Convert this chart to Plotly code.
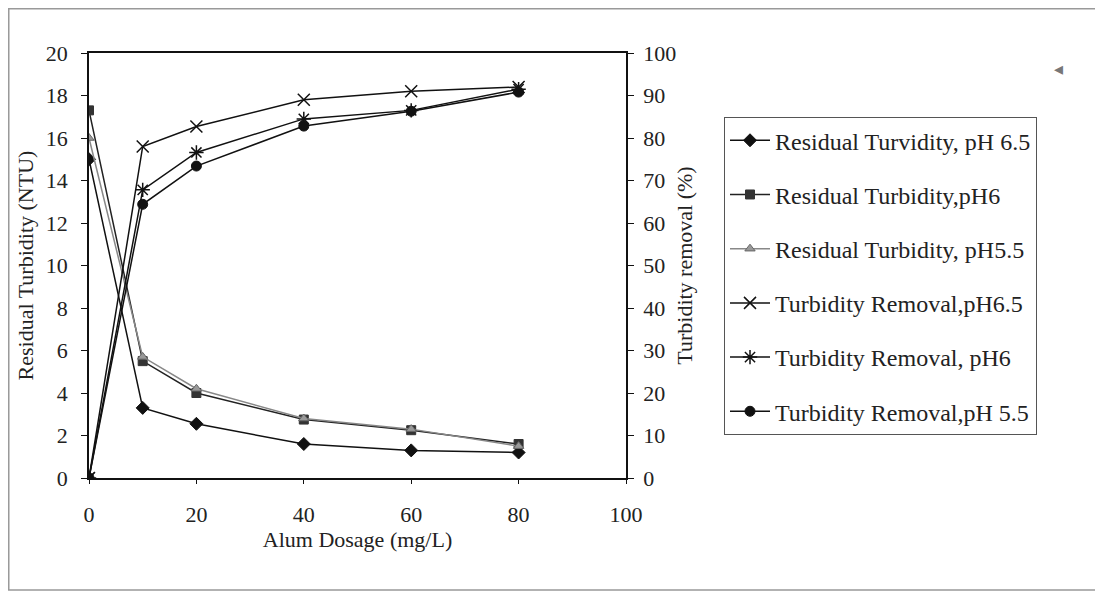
import plotly.graph_objects as go

dosage = [0, 10, 20, 40, 60, 80]
resid_ph65 = [15.0, 3.3, 2.55, 1.6, 1.3, 1.2]
resid_ph6 = [17.3, 5.5, 4.0, 2.75, 2.25, 1.6]
resid_ph55 = [16.0, 5.7, 4.2, 2.8, 2.3, 1.5]
remov_ph65 = [0, 78.0, 82.7, 89.0, 91.0, 92.0]
remov_ph6 = [0, 67.8, 76.6, 84.5, 86.5, 91.5]
remov_ph55 = [0, 64.4, 73.4, 82.8, 86.3, 90.8]

FONT = "Liberation Serif"
fig = go.Figure()

def add(name, y, symbol, mcolor, lcolor, size, yaxis="y", mline=None):
    fig.add_trace(go.Scatter(
        x=dosage, y=y, name=name, mode="lines+markers", yaxis=yaxis,
        legendgroup=name,
        line=dict(color=lcolor, width=1.5),
        marker=dict(symbol=symbol, color=mcolor, size=size,
                    line=mline or dict(color=mcolor, width=1)),
    ))

add("Residual Turvidity, pH 6.5", resid_ph65, "diamond", "#111", "#111", 10)
add("Residual Turbidity,pH6", resid_ph6, "square", "#333", "#222", 9)
add("Residual Turbidity, pH5.5", resid_ph55, "triangle-up", "#999", "#888", 9,
    mline=dict(color="#666", width=1))
add("Turbidity Removal,pH6.5", remov_ph65, "x-thin-open", "#111", "#111", 12, "y2",
    mline=dict(color="#111", width=1.5))
add("Turbidity Removal, pH6", remov_ph6, "asterisk-open", "#111", "#111", 12, "y2",
    mline=dict(color="#111", width=1.5))
add("Turbidity Removal,pH 5.5", remov_ph55, "circle", "#111", "#111", 10, "y2")

axis_common = dict(showgrid=False, zeroline=False, showline=True, linecolor="#111",
                   linewidth=1.5, ticks="outside", tickcolor="#111",
                   tickfont=dict(family=FONT, size=22, color="#222"))

fig.update_layout(
    width=1095, height=586,
    margin=dict(l=81, r=477, t=45, b=116),
    paper_bgcolor="white", plot_bgcolor="white",
    font=dict(family=FONT, size=22, color="#222"),
    xaxis=dict(range=[0, 100], dtick=20, mirror=True, ticklen=4, ticklabelstandoff=12,
               title=dict(text="Alum Dosage (mg/L)", standoff=4,
                          font=dict(family=FONT, size=22)),
               **axis_common),
    yaxis=dict(range=[0, 20], dtick=2, ticklen=6, ticklabelstandoff=9,
               title=dict(text="Residual Turbidity (NTU)", standoff=6,
                          font=dict(family=FONT, size=22)),
               **axis_common),
    yaxis2=dict(range=[0, 100], dtick=10, ticklen=6, ticklabelstandoff=5,
                overlaying="y", side="right",
                title=dict(text="Turbidity removal (%)", standoff=1,
                           font=dict(family=FONT, size=22)),
                **axis_common),
    legend=dict(x=1.1825, y=0.849, xanchor="left", yanchor="top",
                bordercolor="#555", borderwidth=1, bgcolor="white",
                font=dict(family=FONT, size=24, color="#222"),
                tracegroupgap=20, itemwidth=40),
    showlegend=True,
)

fig.add_shape(type="rect", xref="paper", yref="paper",
              x0=-0.1494, x1=1.877, y0=-0.2635, y1=1.104,
              line=dict(color="#999", width=1.5), fillcolor="rgba(0,0,0,0)")

fig.add_annotation(text="◂", xref="paper", yref="paper",
                   x=(1057 - 81) / 537, y=1 + (45 - 49) / 425,
                   showarrow=False, font=dict(size=18, color="#777"))

fig.write_html("out.html")
